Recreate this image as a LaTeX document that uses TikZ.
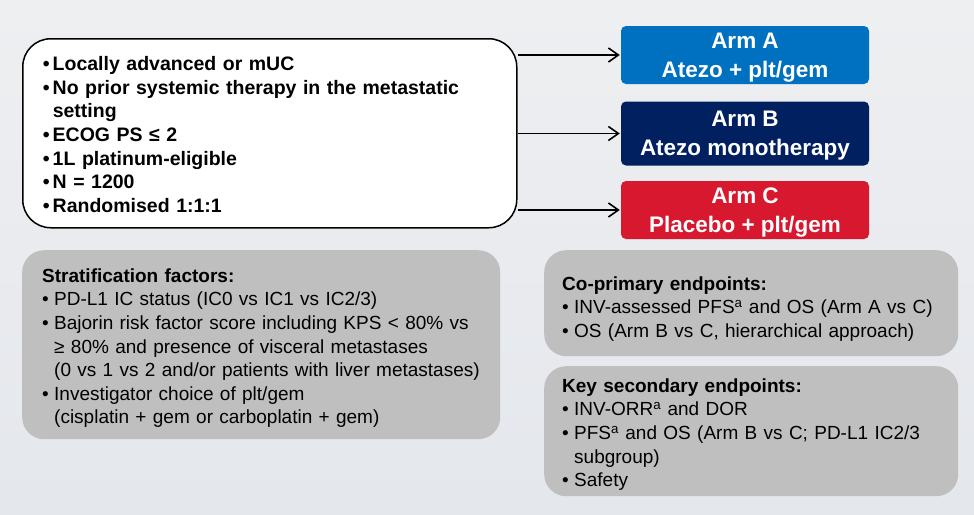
\documentclass[tikz,border=0pt]{standalone}
\usepackage{fontspec}
\setmainfont{Liberation Sans}
\usetikzlibrary{positioning,arrows.meta}
\definecolor{armblue}{HTML}{0070C0}
\definecolor{armnavy}{HTML}{002060}
\definecolor{armred}{HTML}{D7182F}
\definecolor{boxgray}{HTML}{BFBFBF}
\definecolor{bgtop}{HTML}{EEEFF1}
\definecolor{bgbottom}{HTML}{E4E7EC}
\newcommand{\bul}{\makebox[12pt][l]{\textbullet}}
\newcommand{\bbul}{\makebox[10pt][l]{\textbullet}}
\tikzset{
    armbox/.style={rounded corners=5pt, text=white, align=center, inner sep=0pt, text depth=0pt,
        minimum width=248pt, font=\bfseries\fontsize{22.5}{29}\selectfont},
    graybox/.style={fill=boxgray, rounded corners=22pt, align=left, anchor=north west,
        inner ysep=0pt, font=\fontsize{19}{23.6}\selectfont},
    armarrow/.style={-{Straight Barb[length=10pt,width=14pt]}, line width=1.6pt}
}

\begin{document}
\begin{tikzpicture}[x=1pt,y=-1pt]
    \shade[top color=bgtop, bottom color=bgbottom] (0,0) rectangle (974,514);
    \useasboundingbox (0,0) rectangle (974,514);
    \node[draw, line width=1.5pt, fill=white, rounded corners=28pt, anchor=north west,
        text height=32pt, text depth=157pt, text width=454pt, inner xsep=20pt, inner ysep=0pt,
        align=left, font=\bfseries\fontsize{19.5}{23.6}\selectfont] (elig) at (22,38)
        {\bbul Locally advanced or mUC\\
         \bbul No prior systemic therapy in the metastatic\\
         \hspace*{10pt}setting\\
         \bbul ECOG PS ≤ 2\\
         \bbul 1L platinum-eligible\\
         \bbul N = 1200\\
         \bbul Randomised 1:1:1};
    \node[armbox, fill=armblue, minimum height=58pt] (armA) at (745,55) {Arm A\\Atezo + plt/gem};
    \node[armbox, fill=armnavy, minimum height=64pt] (armB) at (745,133.5) {Arm B\\Atezo monotherapy};
    \node[armbox, fill=armred, minimum height=58pt] (armC) at (745,210) {Arm C\\Placebo + plt/gem};
    \foreach \arm in {armA,armB,armC}
        \draw[armarrow] (elig.east |- \arm.west) -- ([xshift=-1pt]\arm.west);
    \node[graybox, text height=32pt, text depth=157pt, text width=438pt, inner xsep=20pt] (strat) at (22,250)
        {\textbf{Stratification factors:}\\
         \bul PD-L1 IC status (IC0 vs IC1 vs IC2/3)\\
         \bul Bajorin risk factor score including KPS < 80\% vs\\
         \hspace*{12pt}≥ 80\% and presence of visceral metastases\\
         \hspace*{12pt}(0 vs 1 vs 2 and/or patients with liver metastases)\\
         \bul Investigator choice of plt/gem\\
         \hspace*{12pt}(cisplatin + gem or carboplatin + gem)};
    \node[graybox, text height=40pt, text depth=66pt, text width=378pt, inner xsep=18pt] (coprim) at (544,250)
        {\textbf{Co-primary endpoints:}\\
         \bul INV-assessed PFS\textsuperscript{a} and OS (Arm A vs C)\\
         \bul OS (Arm B vs C, hierarchical approach)};
    \node[graybox, text height=26pt, text depth=104pt, text width=378pt, inner xsep=18pt] (keysec) at (544,366)
        {\textbf{Key secondary endpoints:}\\
         \bul INV-ORR\textsuperscript{a} and DOR\\
         \bul PFS\textsuperscript{a} and OS (Arm B vs C; PD-L1 IC2/3\\
         \hspace*{12pt}subgroup)\\
         \bul Safety};
\end{tikzpicture}
\end{document}
